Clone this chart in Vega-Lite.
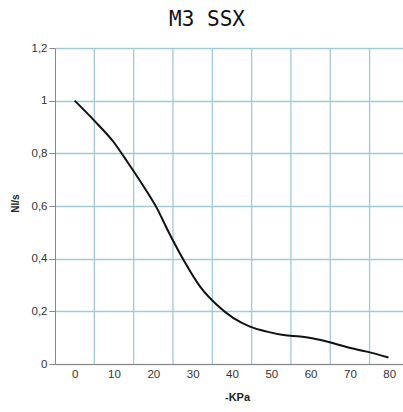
{
  "$schema": "https://vega.github.io/schema/vega-lite/v6.json",
  "width": 348,
  "height": 316,
  "autosize": "none",
  "padding": {"left": 55, "top": 48, "right": 0, "bottom": 48},
  "background": "white",
  "title": {"text": "M3 SSX", "font": "DejaVu Sans Mono", "fontSize": 21, "fontWeight": "normal", "color": "#111111", "anchor": "middle", "frame": "group", "dx": -22, "offset": 12},
  "config": {"view": {"stroke": null}},
  "layer": [
    {
      "data": {"values": [{"g": 5}, {"g": 15}, {"g": 25}, {"g": 35}, {"g": 45}, {"g": 55}, {"g": 65}, {"g": 75}]},
      "mark": {"type": "rule", "color": "#9fcad6", "strokeWidth": 1.3},
      "encoding": {
        "x": {"field": "g", "type": "quantitative", "scale": {"domain": [-5, 83.5], "nice": false, "zero": false}}
      }
    },
    {
      "data": {"values": [
        {"kpa": 0, "v": 1.0},
        {"kpa": 4.8, "v": 0.927},
        {"kpa": 9.85, "v": 0.844},
        {"kpa": 13.3, "v": 0.77},
        {"kpa": 17.5, "v": 0.675},
        {"kpa": 20.9, "v": 0.592},
        {"kpa": 23.6, "v": 0.51},
        {"kpa": 27.7, "v": 0.395},
        {"kpa": 31.9, "v": 0.294},
        {"kpa": 36.2, "v": 0.224},
        {"kpa": 40.4, "v": 0.174},
        {"kpa": 44.6, "v": 0.142},
        {"kpa": 48.9, "v": 0.123},
        {"kpa": 53.1, "v": 0.11},
        {"kpa": 57.4, "v": 0.104},
        {"kpa": 60.7, "v": 0.097},
        {"kpa": 65.8, "v": 0.079},
        {"kpa": 70.1, "v": 0.061},
        {"kpa": 74.3, "v": 0.047},
        {"kpa": 79.8, "v": 0.025}
      ]},
      "mark": {"type": "line", "interpolate": "monotone", "color": "#111111", "strokeWidth": 2},
      "encoding": {
        "x": {
          "field": "kpa", "type": "quantitative",
          "scale": {"domain": [-5, 83.5], "nice": false, "zero": false},
          "axis": {
            "values": [0, 10, 20, 30, 40, 50, 60, 70, 80],
            "grid": false, "ticks": false,
            "domainColor": "#888888",
            "labelFont": "Liberation Sans", "labelFontSize": 11.5, "labelColor": "#333333", "labelPadding": 4,
            "title": "-KPa", "titleFont": "Liberation Sans", "titleFontSize": 11, "titleFontWeight": "bold", "titleColor": "#222222",
            "titleX": 182, "titleY": 33, "titleBaseline": "middle", "titleAlign": "center"
          }
        },
        "y": {
          "field": "v", "type": "quantitative",
          "scale": {"domain": [0, 1.2], "nice": false, "zero": true},
          "axis": {
            "values": [0, 0.2, 0.4, 0.6, 0.8, 1, 1.2],
            "grid": true, "gridColor": "#9fcad6", "gridWidth": 1.3,
            "tickSize": 6, "tickColor": "#888888", "domainColor": "#888888",
            "labelExpr": "replace(format(datum.value, '~g'), '.', ',')",
            "labelFont": "Liberation Sans", "labelFontSize": 11.5, "labelColor": "#333333", "labelPadding": 2,
            "title": "Nl/s", "titleFont": "Liberation Sans", "titleFontSize": 10, "titleFontWeight": "bold", "titleColor": "#222222",
            "titleX": -40, "titleY": 155, "titleAngle": -90, "titleBaseline": "middle", "titleAlign": "center"
          }
        }
      }
    }
  ]
}
